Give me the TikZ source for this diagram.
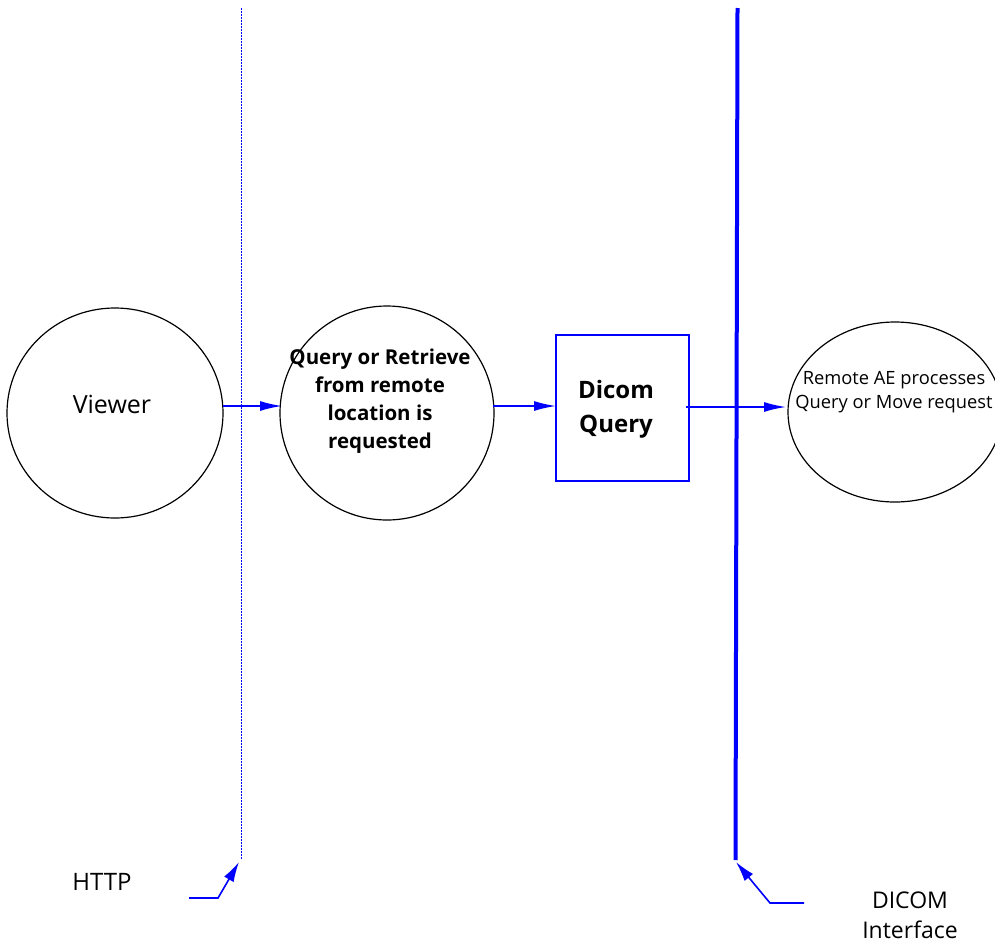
\documentclass[tikz,border=0pt]{standalone}
\usepackage{fontspec}
\setmainfont{Open Sans}
\usetikzlibrary{arrows.meta}
\definecolor{lineblue}{RGB}{0,0,255}
\tikzset{
  flow/.style={draw=lineblue, line width=1.6pt, -{Latex[length=22pt,width=10pt]}},
  callout/.style={draw=lineblue, line width=1.6pt, -{Latex[length=20pt,width=11pt]}},
  lbl/.style={text=black, align=center, inner sep=0pt},
}
\begin{document}
\begin{tikzpicture}[x=1pt,y=-1pt]
\useasboundingbox (0,0) rectangle (995,945);
% process bubbles
\draw[black, line width=1.2pt] (115,413) ellipse [x radius=108, y radius=105];
\node[lbl, font=\fontsize{25}{30}\selectfont] (viewer) at (112,404) {Viewer};
\coordinate (viewerR) at (223,406);

\draw[black, line width=1.2pt] (387,413) ellipse [x radius=107, y radius=107];
\node[lbl, font=\bfseries\fontsize{20.5}{28}\selectfont] (request) at (380,401)
  {Query or Retrieve\\from remote\\location is\\requested};
\coordinate (requestL) at (282,406);
\coordinate (requestR) at (493,406);

\node[draw=lineblue, line width=1.2pt, minimum width=133pt, minimum height=146pt, inner sep=0pt] (query) at (622.5,408) {};
\node[lbl, font=\bfseries\fontsize{24}{34}\selectfont] (querytext) at (616,409) {Dicom\\Query};
\coordinate (queryL) at (556,406);
\coordinate (queryR) at (686,407);

\draw[black, line width=1.2pt] (895,412) ellipse [x radius=107, y radius=90];
\node[lbl, font=\fontsize{18.3}{24}\selectfont] (remote) at (894,392)
  {Remote AE processes\\Query or Move request};
\coordinate (remoteL) at (786,407);

% interface boundaries
\coordinate (httpTop) at (241,8);
\coordinate (httpBot) at (241,860);
\draw[lineblue, line width=1pt, dash pattern=on 1.5pt off 1.5pt] (httpTop) -- (httpBot);
\coordinate (dicomTop) at (737.5,8);
\coordinate (dicomBot) at (735.5,860);
\draw[lineblue, line width=4pt] (dicomTop) -- (dicomBot);

% data flow
\draw[flow] (viewerR) -- (requestL);
\draw[flow] (requestR) -- (queryL);
\draw[flow] (queryR) -- (remoteL);

% labels with callouts
\node[lbl, font=\fontsize{24}{28}\selectfont] (http) at (102,882) {HTTP};
\coordinate (httpTail) at (189,898);
\draw[callout] (httpTail) -- (218,898) -- (239,862);

\node[lbl, font=\fontsize{23}{30}\selectfont] (dicom) at (910,915) {DICOM\\Interface};
\coordinate (dicomTail) at (804,903);
\draw[callout] (dicomTail) -- (770,903) -- (736,862);
\end{tikzpicture}
\end{document}
